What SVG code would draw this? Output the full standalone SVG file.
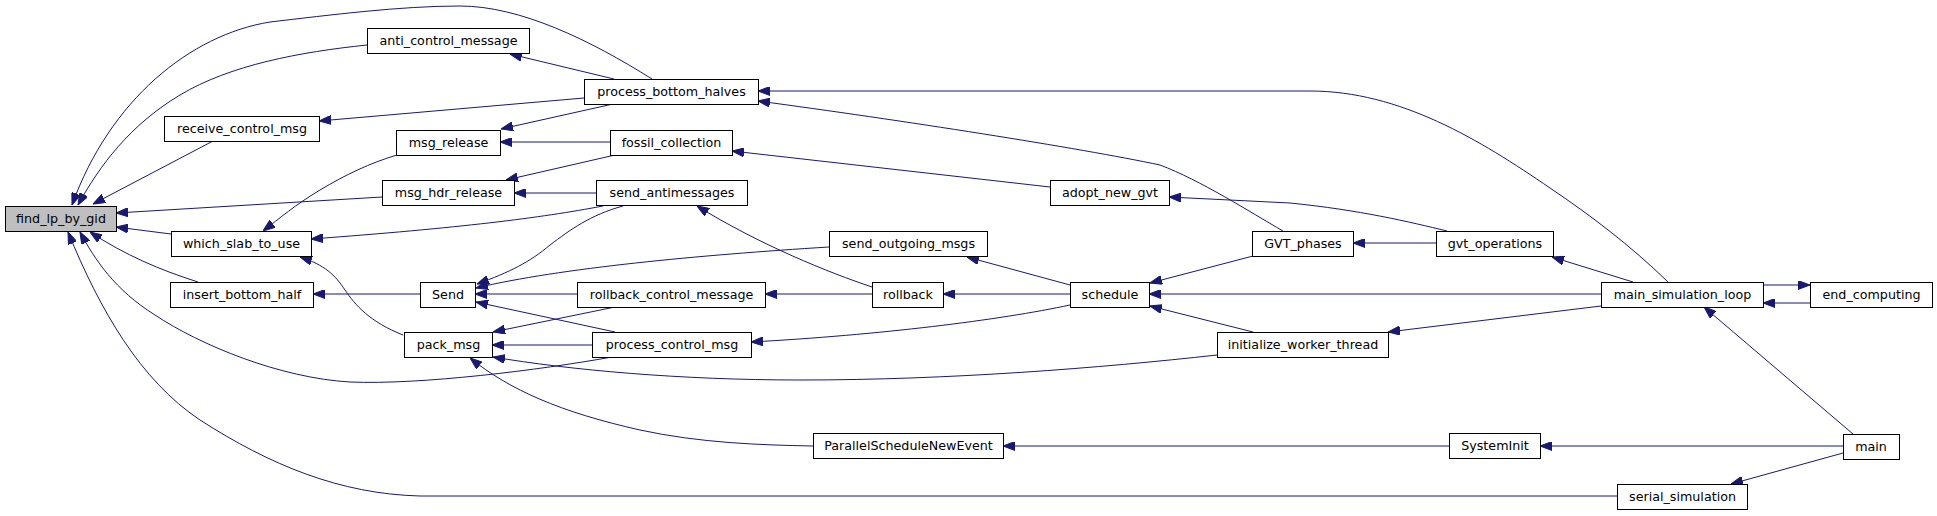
<svg xmlns="http://www.w3.org/2000/svg" width="1937" height="516" viewBox="0 0 1937 516">
<style>
.n rect{fill:#fff;stroke:#000;stroke-width:1}
.n text{font-family:"DejaVu Sans",sans-serif;font-size:12.7px;text-anchor:middle;fill:#000}
#e path{fill:none;stroke:#191970;stroke-width:1;marker-end:url(#a)}
</style>
<defs>
<marker id="a" viewBox="0 0 12 9" refX="12" refY="4.5" markerWidth="12" markerHeight="9" markerUnits="userSpaceOnUse" orient="auto">
<path d="M0,0 L12,4.5 L0,9 z" fill="#191970" stroke="#191970"/>
</marker>
</defs>
<rect width="1937" height="516" fill="#fff"/>
<g id="e">
<path d="M652,79 C590,40 520,6 460,6 C400,6 330,15 270,22 C190,35 110,100 72,205"/>
<path d="M367,45 C300,52 230,65 180,95 C130,125 100,165 78,205"/>
<path d="M213,141 L93,204"/>
<path d="M382,197 L116,213"/>
<path d="M171,234 L116,227"/>
<path d="M198,282 C160,270 125,255 90,232"/>
<path d="M612,357 C540,370 420,385 350,382 C280,378 200,345 155,315 C115,290 95,260 80,232"/>
<path d="M1617,496 L420,496 C340,494 270,465 200,420 C140,380 100,310 68,232"/>
<path d="M397,155 C370,163 345,175 320,190 C295,205 280,218 263,231"/>
<path d="M603,206 C540,218 460,228 311,239"/>
<path d="M403,335 C370,322 355,305 345,290 C335,275 325,265 300,257"/>
<path d="M613,104 L501,129"/>
<path d="M610,142 L500,142"/>
<path d="M615,155 L506,180"/>
<path d="M596,193 L514,193"/>
<path d="M614,79 L510,54"/>
<path d="M584,98 L319,121"/>
<path d="M420,294 L313,294"/>
<path d="M623,206 C590,215 570,230 550,245 C530,262 510,272 477,284"/>
<path d="M829,247 C700,255 560,268 476,288"/>
<path d="M577,294 L475,294"/>
<path d="M615,332 L476,302"/>
<path d="M615,307 L493,332"/>
<path d="M592,345 L492,345"/>
<path d="M1217,355 C1100,368 950,380 800,380 C680,380 570,370 493,357"/>
<path d="M813,446 C760,445 700,443 640,430 C560,412 510,390 470,358"/>
<path d="M1668,282 C1630,245 1590,215 1550,188 C1480,140 1400,91 1310,91 L758,91"/>
<path d="M1283,231 C1250,212 1200,180 1160,165 C1080,148 900,120 758,101"/>
<path d="M1050,187 L732,151"/>
<path d="M872,287 C830,273 760,245 697,206"/>
<path d="M1070,285 L967,257"/>
<path d="M872,294 L765,294"/>
<path d="M1070,294 L943,294"/>
<path d="M1070,305 C1000,320 880,335 751,342"/>
<path d="M1253,256 L1150,283"/>
<path d="M1601,294 L1149,294"/>
<path d="M1253,332 L1150,306"/>
<path d="M1447,231 C1410,222 1360,210 1290,203 L1169,197"/>
<path d="M1436,243 L1353,243"/>
<path d="M1633,282 L1552,257"/>
<path d="M1601,306 L1388,332"/>
<path d="M1449,446 L1003,446"/>
<path d="M1843,446 L1540,446"/>
<path d="M1810,303 L1763,303"/>
<path d="M1853,434 L1704,307"/>
<path d="M1763,285 L1810,285"/>
<path d="M1843,453 L1731,484"/>
</g>
<g id="find_lp_by_gid" class="n"><rect x="5.5" y="206.5" width="111" height="25" style="fill:#bfbfbf"/><text x="61" y="223">find_lp_by_gid</text></g>
<g id="anti_control_message" class="n"><rect x="367.5" y="28.5" width="162" height="25"/><text x="448.5" y="45">anti_control_message</text></g>
<g id="process_bottom_halves" class="n"><rect x="584.5" y="79.5" width="174" height="25"/><text x="671.5" y="96">process_bottom_halves</text></g>
<g id="receive_control_msg" class="n"><rect x="164.5" y="116.5" width="155" height="25"/><text x="242" y="133">receive_control_msg</text></g>
<g id="msg_release" class="n"><rect x="396.5" y="130.5" width="104" height="25"/><text x="448.5" y="147">msg_release</text></g>
<g id="fossil_collection" class="n"><rect x="610.5" y="130.5" width="122" height="25"/><text x="671.5" y="147">fossil_collection</text></g>
<g id="msg_hdr_release" class="n"><rect x="382.5" y="180.5" width="132" height="25"/><text x="448.5" y="197">msg_hdr_release</text></g>
<g id="send_antimessages" class="n"><rect x="596.5" y="180.5" width="151" height="25"/><text x="672" y="197">send_antimessages</text></g>
<g id="adopt_new_gvt" class="n"><rect x="1050.5" y="180.5" width="119" height="25"/><text x="1110" y="197">adopt_new_gvt</text></g>
<g id="which_slab_to_use" class="n"><rect x="171.5" y="231.5" width="140" height="25"/><text x="241.5" y="248">which_slab_to_use</text></g>
<g id="send_outgoing_msgs" class="n"><rect x="829.5" y="231.5" width="158" height="25"/><text x="908.5" y="248">send_outgoing_msgs</text></g>
<g id="GVT_phases" class="n"><rect x="1252.5" y="231.5" width="101" height="25"/><text x="1303" y="248">GVT_phases</text></g>
<g id="gvt_operations" class="n"><rect x="1436.5" y="231.5" width="117" height="25"/><text x="1495" y="248">gvt_operations</text></g>
<g id="insert_bottom_half" class="n"><rect x="170.5" y="282.5" width="143" height="25"/><text x="242" y="299">insert_bottom_half</text></g>
<g id="Send" class="n"><rect x="420.5" y="282.5" width="55" height="25"/><text x="448" y="299">Send</text></g>
<g id="rollback_control_message" class="n"><rect x="577.5" y="282.5" width="188" height="25"/><text x="671.5" y="299">rollback_control_message</text></g>
<g id="rollback" class="n"><rect x="872.5" y="282.5" width="71" height="25"/><text x="908" y="299">rollback</text></g>
<g id="schedule" class="n"><rect x="1070.5" y="282.5" width="79" height="25"/><text x="1110" y="299">schedule</text></g>
<g id="main_simulation_loop" class="n"><rect x="1601.5" y="282.5" width="162" height="25"/><text x="1682.5" y="299">main_simulation_loop</text></g>
<g id="end_computing" class="n"><rect x="1810.5" y="282.5" width="122" height="25"/><text x="1871.5" y="299">end_computing</text></g>
<g id="pack_msg" class="n"><rect x="404.5" y="332.5" width="88" height="25"/><text x="448.5" y="349">pack_msg</text></g>
<g id="process_control_msg" class="n"><rect x="592.5" y="332.5" width="159" height="25"/><text x="672" y="349">process_control_msg</text></g>
<g id="initialize_worker_thread" class="n"><rect x="1217.5" y="332.5" width="171" height="25"/><text x="1303" y="349">initialize_worker_thread</text></g>
<g id="ParallelScheduleNewEvent" class="n"><rect x="813.5" y="433.5" width="190" height="25"/><text x="908.5" y="450">ParallelScheduleNewEvent</text></g>
<g id="SystemInit" class="n"><rect x="1449.5" y="433.5" width="91" height="25"/><text x="1495" y="450">SystemInit</text></g>
<g id="main" class="n"><rect x="1843.5" y="434.5" width="56" height="25"/><text x="1871" y="451">main</text></g>
<g id="serial_simulation" class="n"><rect x="1617.5" y="484.5" width="130" height="25"/><text x="1682.5" y="501">serial_simulation</text></g>
</svg>
